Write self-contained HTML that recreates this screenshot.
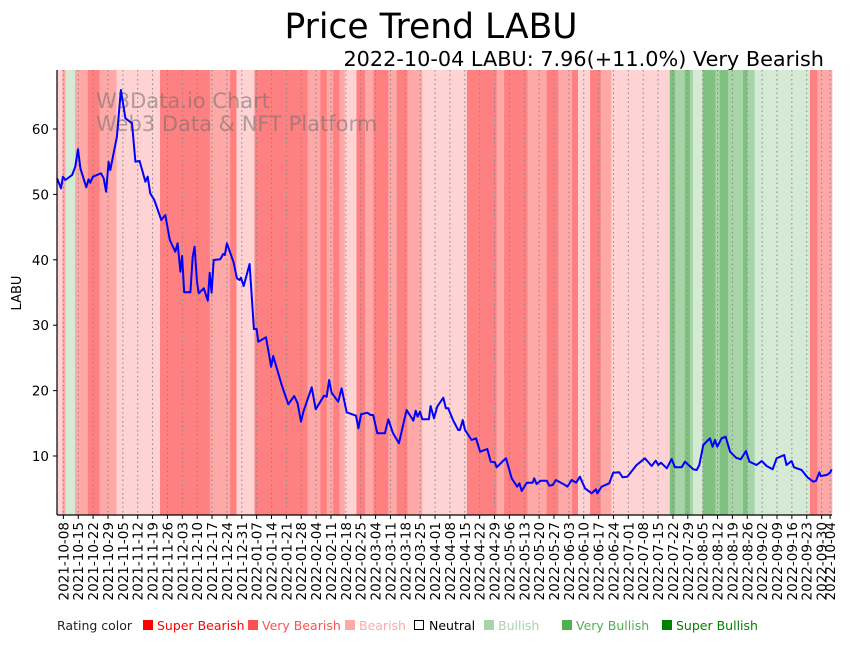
<!DOCTYPE html>
<html><head><meta charset="utf-8"><style>
body{margin:0;background:#fff;font-family:"Liberation Sans","DejaVu Sans",sans-serif}
svg text{font-family:"DejaVu Sans","Liberation Sans",sans-serif}
</style></head><body>
<svg id="chart" width="851" height="641" viewBox="0 0 851 641" xmlns="http://www.w3.org/2000/svg">
<text x="431" y="38" font-size="34.5" text-anchor="middle">Price Trend LABU</text>
<text x="824" y="66" font-size="20.8" text-anchor="end">2022-10-04 LABU: 7.96(+11.0%) Very Bearish</text>
<g id="bands"></g>
<g id="grid"></g>
<text x="96" y="108" font-size="21" fill="rgba(110,110,110,0.55)">W3Data.io Chart</text>
<text x="96" y="131" font-size="21" fill="rgba(110,110,110,0.55)">Web3 Data &amp; NFT Platform</text>
<path id="line" fill="none" stroke="#0000ff" stroke-width="2" stroke-linejoin="round"/>
<g id="axes"></g>
<text transform="translate(21,293) rotate(-90)" font-size="13" text-anchor="middle">LABU</text>
<g font-size="12.5">
<text x="57" y="630" fill="#222">Rating color</text>
<rect x="143" y="620" width="10" height="10" fill="#ff0000"/>
<text x="157" y="630" fill="#ff0000">Super Bearish</text>
<rect x="248" y="620" width="10" height="10" fill="#ff5050"/>
<text x="262" y="630" fill="#ff5050">Very Bearish</text>
<rect x="345" y="620" width="10" height="10" fill="#ffaaaa"/>
<text x="359" y="630" fill="#ffaaaa">Bearish</text>
<rect x="414.5" y="620.5" width="9" height="9" fill="#fff" stroke="#000"/>
<text x="429" y="630" fill="#000">Neutral</text>
<rect x="484" y="620" width="10" height="10" fill="#a8d5a8"/>
<text x="498" y="630" fill="#a8d5a8">Bullish</text>
<rect x="562" y="620" width="10" height="10" fill="#50b050"/>
<text x="576" y="630" fill="#50b050">Very Bullish</text>
<rect x="662" y="620" width="10" height="10" fill="#008000"/>
<text x="676" y="630" fill="#008000">Super Bullish</text>
</g>
</svg>
<script>
// day offsets from 2021-10-05
const priceDays = [0,1.9,2.8,3.9,7.1,8.6,9.9,11.0,13.8,14.9,15.7,16.9,20.7,22.0,23.1,24.3,25.1,28.2,30.1,32.2,35.3,36.9,38.9,41.6,42.7,43.9,45.8,49.1,51.0,53.1,55.7,56.8,58.1,58.9,59.9,62.8,63.9,64.8,65.9,66.7,69.1,71.0,71.9,72.8,73.8,76.9,78.2,79.0,80.0,83.2,84.7,86.0,86.6,87.9,90.7,92.7,94.0,94.8,98.4,100.0,100.8,101.8,105.8,108.9,111.7,113.3,114.9,116.0,119.9,121.8,125.7,127.0,128.1,129.3,132.4,134.0,136.4,140.8,141.9,143.2,146.1,147.7,148.9,150.8,154.4,156.0,158.1,161.0,164.6,167.8,168.9,169.8,170.9,172.0,175.1,175.9,177.5,179.0,181.9,183.1,184.2,186.6,188.9,189.7,191.0,192.1,195.2,197.3,199.2,202.6,204.2,206.2,207.0,208.6,210.1,211.4,214.1,216.7,217.7,218.8,221.2,224.0,224.7,225.8,227.7,230.6,231.8,233.4,234.9,239.2,240.3,242.3,244.4,246.2,248.6,251.7,253.8,254.4,256.4,260.0,261.9,264.7,266.3,268.5,272.9,276.8,280.0,281.9,283.1,284.4,287.1,289.4,291.0,294.1,295.7,299.6,301.2,302.4,304.3,307.4,308.7,309.8,310.9,312.9,314.8,316.9,319.7,321.9,324.4,326.0,329.4,331.8,334.1,337.0,338.8,342.4,343.5,345.9,347.0,350.6,353.3,356.1,357.4,358.9,359.6,362.4,364.0,364.7];
const priceValues = [52.46,50.93,52.71,52.20,52.97,54.24,56.90,53.99,51.09,52.31,51.79,52.71,53.23,52.46,50.41,55.00,53.73,58.82,65.96,61.64,60.87,55.00,55.11,51.94,52.71,50.17,49.14,46.09,46.85,43.03,41.24,42.52,38.18,40.58,35.03,35.03,40.47,42.00,36.65,34.88,35.64,33.75,38.03,34.97,39.97,40.08,40.89,40.73,42.52,39.56,37.17,36.91,37.26,35.99,39.36,29.42,29.42,27.48,28.15,25.18,23.65,25.29,20.86,17.91,19.17,18.06,15.24,16.77,20.50,17.14,19.22,19.07,21.62,19.68,18.30,20.35,16.68,16.16,14.24,16.38,16.62,16.27,16.27,13.47,13.47,15.61,13.56,11.94,17.03,15.40,16.93,16.01,16.77,15.61,15.61,17.65,15.76,17.54,18.91,17.29,17.29,15.40,13.98,13.98,15.50,13.98,12.45,12.71,10.66,11.07,9.13,9.04,8.27,8.78,9.28,9.65,6.59,5.31,5.83,4.65,5.92,5.92,6.59,5.72,6.22,6.22,5.46,5.57,6.33,5.57,5.31,6.33,5.92,6.83,5.06,4.30,4.91,4.30,5.31,5.83,7.45,7.51,6.74,6.83,8.62,9.65,8.47,9.28,8.62,8.98,8.12,9.54,8.27,8.27,9.13,7.97,7.86,8.62,11.68,12.71,11.42,12.45,11.42,12.71,12.95,10.66,9.74,9.50,10.76,9.13,8.62,9.24,8.47,7.97,9.65,10.15,8.62,9.24,8.27,7.86,6.74,6.07,6.22,7.51,6.94,7.09,7.45,7.97];
// rating segments: start day and rating level (-3..3)
const ratingStarts = [0,2.5,4,8.5,14.5,20,28,48.5,72,81.5,84.5,93,118,124,127,130,133,135.5,141,145,149,156,160,165,172,193,207,210.5,221.5,230.5,236,242.5,245.3,251,256,261,288.5,291,295.5,298,299.5,304,310,312,316,323,325,328.5,354.5,358];
const ratingLevels = [-1,-2,1,-2,-3,-2,-1,-3,-2,-3,-1,-3,-2,-3,-2,-3,-2,-1,-3,-2,-3,-2,-3,-2,-1,-3,-2,-3,-2,-3,-2,-3,-1,-3,-2,-1,3,2,3,2,1,3,2,3,2,3,2,1,-3,-2];
const ratingEnd = 365;
const tickLabels = ["2021-10-08","2021-10-15","2021-10-22","2021-10-29","2021-11-05","2021-11-12","2021-11-19","2021-11-26","2021-12-03","2021-12-10","2021-12-17","2021-12-24","2021-12-31","2022-01-07","2022-01-14","2022-01-21","2022-01-28","2022-02-04","2022-02-11","2022-02-18","2022-02-25","2022-03-04","2022-03-11","2022-03-18","2022-03-25","2022-04-01","2022-04-08","2022-04-15","2022-04-22","2022-04-29","2022-05-06","2022-05-13","2022-05-20","2022-05-27","2022-06-03","2022-06-10","2022-06-17","2022-06-24","2022-07-01","2022-07-08","2022-07-15","2022-07-22","2022-07-29","2022-08-05","2022-08-12","2022-08-19","2022-08-26","2022-09-02","2022-09-09","2022-09-16","2022-09-23","2022-09-30","2022-10-04"];
const yTicks = [10,20,30,40,50,60];

const NS="http://www.w3.org/2000/svg";
const L=57,R=832,T=70,B=515;
const startMs=Date.UTC(2021,9,5);
const xScale=d=>L+d*(R-L)/364.9;
const yScale=v=>521.4-v*6.54;
const colors={"-3":"#ff8080","-2":"#ffa8a8","-1":"#ffd3d3","0":"#ffffff","1":"#d4ead4","2":"#a8d5a8","3":"#80c080"};
function mk(tag,attrs,parent){const e=document.createElementNS(NS,tag);for(const k in attrs)e.setAttribute(k,attrs[k]);parent.appendChild(e);return e;}
const bands=document.getElementById('bands');
ratingStarts.forEach((s,i)=>{
  const e=i+1<ratingStarts.length?ratingStarts[i+1]:ratingEnd;
  const x0=xScale(s),x1=Math.min(xScale(e),R);
  const r=mk('rect',{x:x0,y:T,width:Math.max(0,x1-x0+0.3),height:B-T,fill:colors[ratingLevels[i]]},bands);
  
  
});
const grid=document.getElementById('grid'),axes=document.getElementById('axes');
tickLabels.forEach(lbl=>{
  const p=lbl.split('-');const d=(Date.UTC(+p[0],+p[1]-1,+p[2])-startMs)/86400000;
  const x=xScale(d);
  const g=mk('line',{x1:x,x2:x,y1:T,y2:B,stroke:'#888','stroke-width':1,'stroke-dasharray':'1.5,3'},grid);
  
  
  mk('line',{x1:x,x2:x,y1:B,y2:B+4,stroke:'#000'},axes);
  const t=mk('text',{transform:`translate(${x+5},${B+7}) rotate(-90)`,'font-size':13.5,'text-anchor':'end'},axes);
  t.textContent=lbl;
  
  
});
yTicks.forEach(v=>{
  const y=yScale(v);
  mk('line',{x1:L-4,x2:L,y1:y,y2:y,stroke:'#000'},axes);
  const t=mk('text',{x:L-8,y:y+5,'font-size':13.5,'text-anchor':'end'},axes);
  t.textContent=v;
  
  
});
mk('line',{x1:L,x2:L,y1:T,y2:B,stroke:'#000','stroke-width':1.2},axes);
mk('line',{x1:L,x2:R,y1:B,y2:B,stroke:'#000','stroke-width':1.2},axes);
document.getElementById('line').setAttribute('d',priceDays.map((d,i)=>(i?'L':'M')+xScale(d).toFixed(1)+','+yScale(priceValues[i]).toFixed(1)).join(''));
</script>
</body></html>
